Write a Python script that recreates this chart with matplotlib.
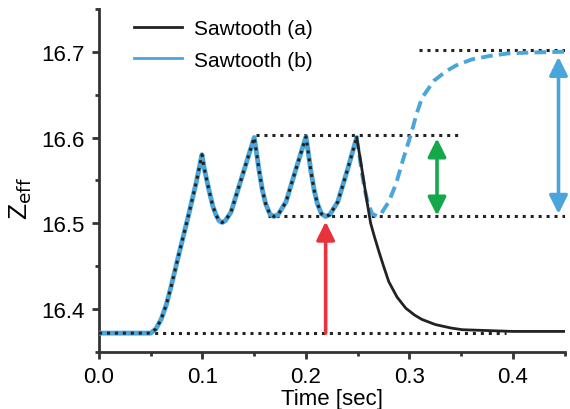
import matplotlib
matplotlib.use("Agg")
import matplotlib.pyplot as plt
from matplotlib.ticker import MultipleLocator

plt.rcParams['font.family'] = ['Liberation Sans', 'DejaVu Sans']

# Common sawtooth portion (both cases identical until t = 0.249 s)
t_common = [0.000, 0.050, 0.055, 0.060, 0.065, 0.070, 0.077, 0.087, 0.094, 0.0995,
            0.1015, 0.106, 0.110, 0.113, 0.116, 0.119, 0.122, 0.1275, 0.135, 0.143, 0.150,
            0.1525, 0.1546, 0.158, 0.161, 0.165, 0.169, 0.173, 0.1807, 0.190, 0.200,
            0.2025, 0.2046, 0.208, 0.211, 0.215, 0.219, 0.223, 0.2307, 0.240, 0.249]
z_common = [16.372, 16.372, 16.377, 16.388, 16.405, 16.428, 16.463, 16.512, 16.548, 16.580,
            16.565, 16.540, 16.520, 16.510, 16.503, 16.501, 16.503, 16.513, 16.542, 16.573, 16.600,
            16.580, 16.562, 16.538, 16.523, 16.511, 16.508, 16.510, 16.525, 16.562, 16.601,
            16.580, 16.562, 16.538, 16.523, 16.511, 16.508, 16.510, 16.525, 16.562, 16.600]

# Sawtooth (a) after the last crash
t_a = [0.249, 0.2525, 0.256, 0.259, 0.2625, 0.266, 0.2705, 0.275, 0.280, 0.288, 0.2965,
       0.305, 0.312, 0.325, 0.340, 0.351, 0.400, 0.449]
z_a = [16.600, 16.575, 16.548, 16.525, 16.500, 16.485, 16.467, 16.450, 16.432, 16.414, 16.401,
       16.393, 16.388, 16.382, 16.378, 16.376, 16.374, 16.374]

# Sawtooth (b) after the last crash
t_b = [0.249, 0.2515, 0.2536, 0.257, 0.260, 0.264, 0.2695, 0.273, 0.280, 0.287, 0.294, 0.3015,
       0.307, 0.312, 0.3235, 0.335, 0.345, 0.360, 0.377, 0.395, 0.4155, 0.450]
z_b = [16.600, 16.580, 16.562, 16.538, 16.523, 16.511, 16.508, 16.512, 16.525, 16.546, 16.575, 16.604,
       16.628, 16.646, 16.666, 16.677, 16.684, 16.691, 16.695, 16.698, 16.699, 16.700]

# Reference levels
z_base, z_trough, z_peak, z_top = 16.372, 16.508, 16.603, 16.702

blue = '#4aa6da'
fig = plt.figure(figsize=(5.7, 4.1), dpi=100)
ax = fig.add_axes([0.1737, 0.139, 0.817, 0.837])

# reference dotted lines
dot = dict(color='#222222', lw=2.2, ls=(0, (1, 1.6)))
ax.plot([0.0, 0.393], [z_base, z_base], **dot)
ax.plot([0.163, 0.45], [z_trough, z_trough], **dot)
ax.plot([0.152, 0.351], [z_peak, z_peak], **dot)
ax.plot([0.309, 0.45], [z_top, z_top], **dot)

# curves
ax.plot(t_common, z_common, color=blue, lw=3.5, solid_capstyle='round', zorder=3)
ax.plot(t_b, z_b, color=blue, lw=2.8, ls=(0, (3, 1.6)), zorder=3)
ax.plot(t_a, z_a, color='#222222', lw=2.0, zorder=4)
ax.plot(t_common, z_common, color='#222222', lw=2.2, ls=(0, (1, 1.6)), zorder=4)

# arrows
head1 = '-|>,head_length=1.1,head_width=0.55'
head2 = '<|-|>,head_length=1.1,head_width=0.55'
ax.annotate('', xy=(0.219, 16.502), xytext=(0.219, z_base),
            arrowprops=dict(arrowstyle=head1, color='#e8323c', lw=2.6, shrinkA=0, shrinkB=0))
ax.annotate('', xy=(0.3266, 16.599), xytext=(0.3266, 16.509),
            arrowprops=dict(arrowstyle=head2, color='#14a84b', lw=2.6, shrinkA=0, shrinkB=0))
ax.annotate('', xy=(0.444, 16.694), xytext=(0.444, 16.511),
            arrowprops=dict(arrowstyle=head2, color=blue, lw=2.6, shrinkA=0, shrinkB=0))

# legend proxies
la, = ax.plot([], [], color='#222222', lw=2.0, label='Sawtooth (a)')
lb, = ax.plot([], [], color=blue, lw=2.0, label='Sawtooth (b)')
ax.legend(handles=[la, lb], loc='upper left', bbox_to_anchor=(0.035, 1.025), frameon=False,
          fontsize=15, handlelength=2.3, handletextpad=0.58, labelspacing=0.6)

ax.set_xlim(0, 0.45)
ax.set_ylim(16.35, 16.75)
ax.set_xticks([0.0, 0.1, 0.2, 0.3, 0.4])
ax.set_yticks([16.4, 16.5, 16.6, 16.7])
ax.xaxis.set_minor_locator(MultipleLocator(0.05))
ax.yaxis.set_minor_locator(MultipleLocator(0.05))
for s in ['top', 'right']:
    ax.spines[s].set_visible(False)
for s in ['left', 'bottom']:
    ax.spines[s].set_linewidth(2.0)
    ax.spines[s].set_color('#333333')
ax.tick_params(which='major', direction='out', length=5, width=2, color='#333333',
               labelsize=16, pad=5)
ax.tick_params(which='minor', direction='out', length=3, width=2, color='#333333')
ax.set_xlabel('Time [sec]', fontsize=16, labelpad=1)
ax.set_ylabel(r'Z$_{\mathrm{eff}}$', fontsize=19)
ax.yaxis.set_label_coords(-0.14, 0.45)

fig.savefig('out.png', dpi=100)
